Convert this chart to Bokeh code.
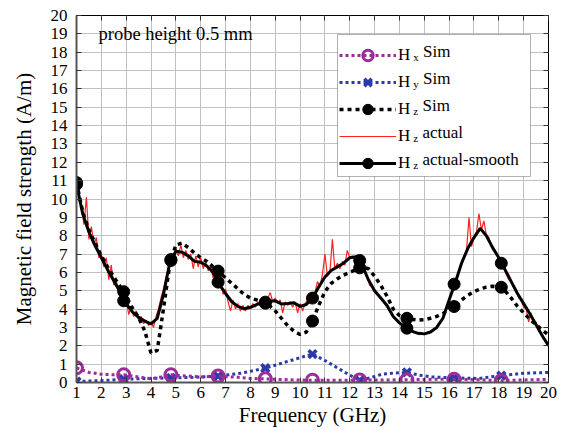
import numpy as np
from bokeh.plotting import figure
from bokeh.models import (Range1d, FixedTicker, LinearAxis, Legend, LegendItem,
                          Label, BoxAnnotation)
from bokeh.embed import file_html
from bokeh.resources import INLINE

# ---------------- data ----------------
x_ticks = list(range(1, 21))
y_ticks = list(range(0, 21))

# marker frequencies (GHz)
marker_f = [1.0, 2.9, 4.8, 6.7, 8.6, 10.5, 12.4, 14.3, 16.2, 18.1]
hx_sim_m = [0.8, 0.42, 0.42, 0.35, 0.2, 0.12, 0.13, 0.15, 0.18, 0.1]
hy_sim_m = [0.05, 0.18, 0.25, 0.35, 0.78, 1.55, 0.12, 0.55, 0.25, 0.38]
hz_sim_m = [10.9, 4.95, 6.7, 6.07, 4.32, 3.35, 6.25, 3.5, 4.14, 5.19]
hz_smooth_m = [10.8, 4.45, 6.65, 5.47, 4.38, 4.6, 6.65, 2.96, 5.36, 6.5]

# Hz curves sampled every 0.25 GHz
curve_f = np.round(np.arange(1.0, 20.001, 0.25), 2)
hz_sim = [10.9, 9.3, 8.3, 7.6, 6.9, 6.3, 5.75, 5.25, 4.7, 4.05, 3.55, 2.8, 1.6,
          1.75, 4.0, 6.4, 7.5, 7.6, 7.35, 7.05, 6.8, 6.6, 6.3, 6.0, 5.7, 5.4, 5.1, 4.8, 4.6,
          4.5, 4.38, 4.2, 3.9, 3.5, 3.1, 2.8, 2.62, 2.75, 3.35, 4.2, 4.95, 5.4, 5.65, 5.85, 6.0,
          6.15, 6.3, 6.2, 5.8, 5.3, 4.7, 4.0, 3.65, 3.5, 3.45, 3.4, 3.42, 3.5, 3.6, 3.75, 4.0,
          4.2, 4.5, 4.75, 4.95, 5.1, 5.2, 5.25, 5.2, 5.0, 4.6, 4.15, 3.8, 3.45, 3.15, 2.85, 2.6]
hz_smooth = [10.8, 9.2, 8.2, 7.45, 6.8, 6.15, 5.55, 4.95, 4.3, 3.85, 3.55, 3.35, 3.2,
             3.5, 4.8, 6.5, 7.15, 7.1, 6.9, 6.6, 6.55, 6.35, 6.0, 5.35, 4.85, 4.4, 4.15, 4.02, 4.1,
             4.25, 4.35, 4.42, 4.45, 4.28, 4.3, 4.35, 4.15, 4.25, 4.6, 5.2, 5.75, 6.1, 6.3, 6.5, 6.8,
             6.85, 6.4, 5.6, 5.0, 4.6, 4.2, 3.6, 3.25, 3.0, 2.8, 2.68, 2.65, 2.75, 3.0, 3.5, 4.5,
             5.45, 6.5, 7.3, 7.9, 8.4, 8.0, 7.35, 6.8, 6.15, 5.5, 4.85, 4.3, 3.75, 3.15, 2.55, 2.0]

# measured Hz, every 0.1 GHz
actual_f = np.round(np.arange(1.0, 20.001, 0.1), 2)
hz_actual = [10.9, 10.3, 9.6, 8.6, 10.1, 7.8, 8.5, 7.5, 7.9, 6.8,
             7.0, 6.3, 6.8, 5.6, 6.4, 5.3, 5.6, 4.8, 5.1, 4.4,
             4.6, 3.7, 4.1, 3.6, 3.9, 3.4, 3.6, 3.2, 3.4, 3.1,
             3.3, 3.0, 3.6, 4.0, 4.6, 5.1, 5.7, 6.2, 6.9, 6.8,
             7.3, 6.9, 7.5, 6.8, 7.2, 6.7, 7.0, 6.2, 6.9, 6.3,
             6.8, 6.2, 6.6, 6.1, 6.3, 5.7, 6.0, 5.3, 5.6, 4.8,
             5.1, 4.4, 3.9, 4.5, 4.0, 4.3, 3.9, 4.2, 3.9, 4.2,
             4.0, 4.3, 4.1, 4.4, 4.2, 4.5, 4.3, 4.6, 4.9, 4.4,
             4.6, 4.3, 4.5, 3.8, 4.4, 4.2, 4.4, 4.1, 4.4, 3.8,
             4.3, 3.9, 4.3, 4.5, 4.4, 4.7, 4.9, 5.5, 5.2, 5.9,
             7.0, 5.8, 6.0, 7.8, 6.2, 6.5, 6.2, 6.6, 6.4, 7.2,
             6.8, 6.9, 6.7, 6.9, 6.5, 6.4, 6.0, 5.8, 5.3, 5.2,
             4.9, 4.8, 4.6, 4.5, 4.3, 4.1, 3.9, 3.7, 3.5, 3.4,
             3.2, 3.1, 3.0, 2.9, 2.9, 2.8, 2.7, 2.7, 2.6, 2.7,
             2.6, 2.7, 2.7, 2.8, 2.9, 3.0, 3.2, 3.4, 3.7, 4.0,
             4.4, 4.9, 5.3, 5.7, 6.1, 6.6, 6.9, 7.2, 9.0, 7.4,
             7.9, 8.2, 9.2, 8.3, 8.8, 8.0, 7.9, 7.4, 7.3, 7.0,
             6.8, 6.5, 6.2, 5.9, 5.6, 5.5, 5.2, 5.0, 4.6, 4.5,
             4.1, 4.0, 3.3, 3.8, 3.2, 3.3, 2.8, 2.7, 2.4, 2.3,
             2.0]

hx_f = [1.0, 1.5, 2.0, 2.5, 2.9, 3.5, 4.0, 4.4, 4.8, 5.5, 6.0, 6.7, 7.5, 8.0, 8.6,
        9.5, 10.5, 11.5, 12.4, 13.5, 14.3, 15.2, 16.2, 17.2, 18.1, 19.0, 20.0]
hx_sim = [0.8, 0.55, 0.45, 0.42, 0.42, 0.3, 0.2, 0.3, 0.42, 0.35, 0.3, 0.35, 0.28, 0.22, 0.2,
          0.15, 0.12, 0.12, 0.13, 0.14, 0.15, 0.17, 0.18, 0.15, 0.1, 0.14, 0.17]
hy_f = [1.0, 1.5, 2.0, 2.9, 3.8, 4.8, 5.7, 6.7, 7.6, 8.6, 9.5, 10.5, 11.0, 11.5, 12.0,
        12.4, 12.8, 13.3, 13.8, 14.3, 14.8, 15.3, 16.2, 17.2, 18.1, 19.0, 20.0]
hy_sim = [0.05, 0.08, 0.1, 0.18, 0.22, 0.25, 0.28, 0.35, 0.5, 0.78, 1.15, 1.55, 1.2, 0.8, 0.4,
          0.12, 0.25, 0.45, 0.52, 0.55, 0.4, 0.3, 0.25, 0.22, 0.38, 0.5, 0.55]

legend_sub = ["x", "y", "z", "z", "z"]
legend_rest = ["Sim", "Sim", "Sim", "actual", "actual-smooth"]
note_text = "probe height 0.5 mm"

# ---------------- styling ----------------
FONT = "Liberation Serif"
PURPLE = "#9b2d9b"
BLUE = "#2b3aa8"
RED = "#ff2020"
W, H = 560, 430
ML, MT, MR, MB = 76, 15, 12, 48
FH = H - MT - MB

p = figure(width=W, height=H, output_backend="svg", toolbar_location=None,
           x_range=Range1d(1, 20), y_range=Range1d(0, 20),
           min_border_left=ML, min_border_right=MR, min_border_top=MT, min_border_bottom=MB,
           x_axis_label="Frequency (GHz)", y_axis_label="Magnetic field strength (A/m)")
p.outline_line_color = "black"
p.outline_line_width = 1
p.background_fill_color = "white"
p.border_fill_color = "white"

for ax, ticks in ((p.xaxis[0], x_ticks), (p.yaxis[0], y_ticks)):
    ax.ticker = FixedTicker(ticks=ticks)
    ax.major_label_text_font = FONT
    ax.major_label_text_font_size = "17px"
    ax.major_label_text_color = "black"
    ax.axis_label_text_font = FONT
    ax.axis_label_text_font_size = "21px"
    ax.axis_label_text_font_style = "normal"
    ax.axis_label_text_color = "black"
    ax.axis_line_color = "#555555"
    ax.axis_line_width = 2
    ax.major_tick_in = 5
    ax.major_tick_out = 0
    ax.major_tick_line_color = "#333333"
    ax.minor_tick_line_color = None
p.xaxis[0].major_label_standoff = 4
p.xaxis[0].axis_label_standoff = 2
p.yaxis[0].major_label_standoff = 9
p.yaxis[0].axis_label_standoff = 12

top_ax = LinearAxis(ticker=FixedTicker(ticks=x_ticks), major_label_text_font_size="1px",
                    major_label_text_color=None,
                    major_label_standoff=0, axis_line_color=None, major_tick_in=5,
                    major_tick_out=0, minor_tick_line_color=None,
                    major_tick_line_color="#333333")
right_ax = LinearAxis(ticker=FixedTicker(ticks=y_ticks), major_label_text_font_size="1px",
                      major_label_text_color=None,
                      major_label_standoff=0, axis_line_color=None, major_tick_in=5,
                      major_tick_out=0, minor_tick_line_color=None,
                      major_tick_line_color="#333333")
p.add_layout(top_ax, "above")
p.add_layout(right_ax, "right")

p.xgrid.ticker = FixedTicker(ticks=x_ticks)
p.ygrid.ticker = FixedTicker(ticks=y_ticks)
p.grid.grid_line_color = "#c0c0c0"
p.grid.grid_line_width = 1

# ---------------- glyphs ----------------
r_act = p.line(actual_f, hz_actual, line_color=RED, line_width=1.2)
r_smooth = p.line(curve_f, hz_smooth, line_color="black", line_width=3)
r_smooth_m = p.scatter(marker_f, hz_smooth_m, marker="circle", size=12, color="black")
r_sim = p.line(curve_f, hz_sim, line_color="black", line_width=3.5, line_dash="4 4")
r_sim_m = p.scatter(marker_f, hz_sim_m, marker="circle", size=12, color="black")
r_hy = p.line(hy_f, hy_sim, line_color=BLUE, line_width=3, line_dash="3 3")
r_hy_m = p.scatter(marker_f, hy_sim_m, marker="x", size=11, line_color=BLUE, line_width=3.5)
r_hx = p.line(hx_f, hx_sim, line_color=PURPLE, line_width=3, line_dash="3 3")
r_hx_m = p.scatter(marker_f, hx_sim_m, marker="circle", size=12, line_color=PURPLE,
                   fill_color=None, line_width=3)

# ---------------- legend ----------------
LX, LTOP, LW, LH = 261, 19, 193, 142
box = BoxAnnotation(left=LX, right=LX + LW, top=FH - LTOP, bottom=FH - LTOP - LH,
                    left_units="screen", right_units="screen", top_units="screen",
                    bottom_units="screen", fill_color="white", fill_alpha=1.0,
                    line_color="black", line_width=1, level="annotation")
p.add_layout(box)

items = [LegendItem(label="H", renderers=[r_hx, r_hx_m]),
         LegendItem(label="H", renderers=[r_hy, r_hy_m]),
         LegendItem(label="H", renderers=[r_sim, r_sim_m]),
         LegendItem(label="H", renderers=[r_act]),
         LegendItem(label="H", renderers=[r_smooth, r_smooth_m])]
PAD, GH, GW, SP, STAND = 4, 26, 57, 1, 2
legend = Legend(items=items, location=(LX + 2, FH - LTOP - LH), orientation="vertical",
                padding=PAD, spacing=SP, glyph_height=GH, glyph_width=GW, label_height=GH,
                label_standoff=STAND, margin=0, border_line_color=None,
                background_fill_alpha=0, label_text_font=FONT, label_text_font_size="17px",
                label_text_color="black")
p.add_layout(legend)

label_x = LX + 2 + PAD + GW + STAND
h_w = 0.722 * 17 - 1.5
sub_w = {"x": 5.5, "y": 5.5, "z": 4.9}
for i, (sb, rest) in enumerate(zip(legend_sub, legend_rest)):
    yc = FH - (LTOP + PAD + GH / 2 + i * (GH + SP))
    p.add_layout(Label(x=label_x + h_w, y=yc - 5, x_units="screen", y_units="screen",
                       text=sb, text_font=FONT, text_font_size="11px",
                       text_baseline="middle", text_align="left", text_color="black"))
    p.add_layout(Label(x=label_x + h_w + sub_w[sb] + 4.3, y=yc, x_units="screen",
                       y_units="screen", text=rest, text_font=FONT, text_font_size="17px",
                       text_baseline="middle", text_align="left", text_color="black"))

p.add_layout(Label(x=22, y=FH - 18, x_units="screen", y_units="screen", text=note_text,
                   text_font=FONT, text_font_size="18.5px", text_baseline="middle",
                   text_align="left", text_color="black"))

open("out.html", "w").write(file_html(p, INLINE))
